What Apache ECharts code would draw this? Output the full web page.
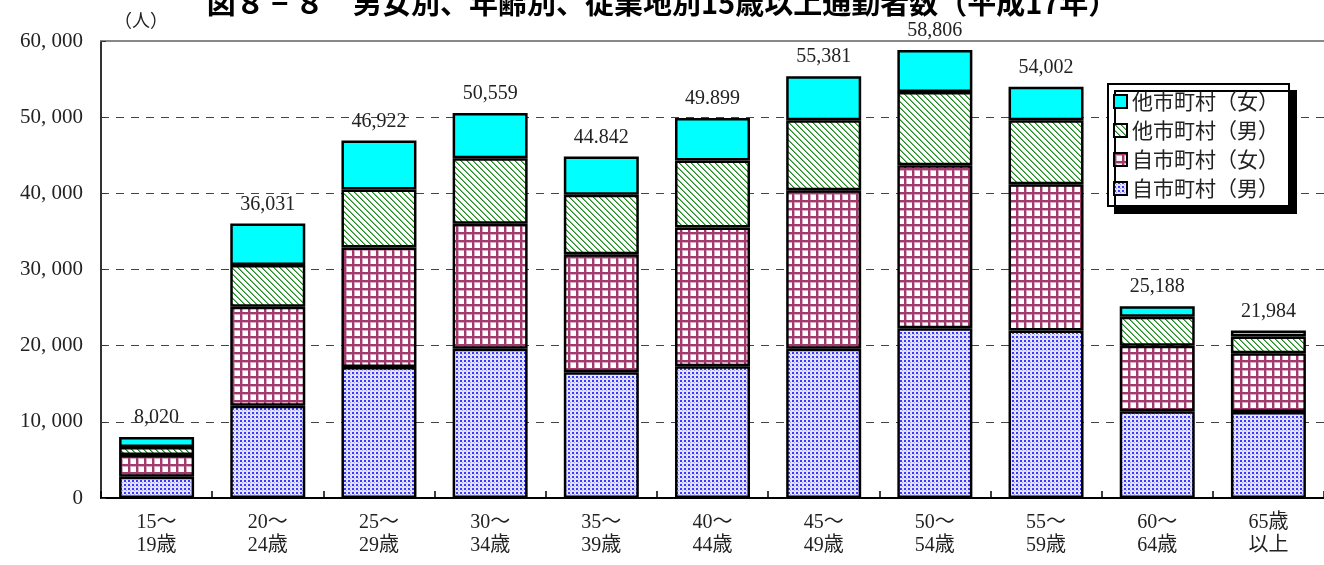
<!DOCTYPE html>
<html><head><meta charset="utf-8">
<script src="https://cdn.jsdelivr.net/npm/echarts@6/dist/echarts.min.js"></script>
<style>html,body{margin:0;padding:0;background:#fff}#c{width:1324px;height:565px}</style>
</head><body><div id="c"></div>
<script>
const categories = ['15～\n19歳','20～\n24歳','25～\n29歳','30～\n34歳','35～\n39歳','40～\n44歳','45～\n49歳','50～\n54歳','55～\n59歳','60～\n64歳','65歳\n以上'];
const jiM = [2800,12100,17200,19600,16500,17300,19600,22300,22000,11400,11300];
const jiF = [2850,13000,15700,16400,15500,18200,20800,21400,19200,8600,7700];
const taM = [1050,5500,7600,8600,7800,8800,9200,9600,8400,3800,2200];
const taF = [1320,5431,6422,5959,5042,5599,5781,5506,4402,1388,784];
const totalLabels = ['8,020','36,031','46,922','50,559','44.842','49.899','55,381','58,806','54,002','25,188','21,984'];
const yTickLabels = ['0','10, 000','20, 000','30, 000','40, 000','50, 000','60, 000'];
const seriesNames = ['自市町村（男）','自市町村（女）','他市町村（男）','他市町村（女）'];
const titleText = '図８ − ８　男女別、年齢別、従業地別15歳以上通勤者数（平成17年）';

function tile(w,h,draw){const c=document.createElement('canvas');c.width=w;c.height=h;const g=c.getContext('2d');draw(g);return {image:c,repeat:'repeat'};}
const dotPat = tile(4,4,g=>{g.fillStyle='#e4e4ff';g.fillRect(0,0,4,4);g.fillStyle='#3a3aff';g.fillRect(0,0,2,2);g.fillStyle='#9a9aff';g.fillRect(2,2,1,1);});
const gridPat = tile(8,8,g=>{g.fillStyle='#ffffff';g.fillRect(0,0,8,8);g.fillStyle='#d7a6bf';g.fillRect(0,0,3,8);g.fillRect(0,0,8,3);g.fillStyle='#a23a6e';g.fillRect(0,0,2,8);g.fillRect(0,0,8,2);});
const hatchPat = tile(6,6,g=>{g.fillStyle='#ffffff';g.fillRect(0,0,6,6);for(let y=0;y<6;y++){for(let x=0;x<6;x++){const d=((x-y)%6+6)%6;if(d===0){g.fillStyle='#1f8a1f';g.fillRect(x,y,1,1);}else if(d===1){g.fillStyle='#79c079';g.fillRect(x,y,1,1);}}}});
const cyan = '#00ffff';

const serif = "'Liberation Serif','Noto Sans CJK JP',serif";
const chart = echarts.init(document.getElementById('c'));
const base = {type:'bar',stack:'a',barWidth:75};
chart.setOption({
  animation:false,
  backgroundColor:'#fff',
  title:{text:titleText,left:'center',top:-17,textStyle:{fontFamily:"'Noto Sans CJK JP'",fontWeight:'bold',fontSize:29,color:'#000'}},
  legend:{orient:'vertical',left:1108,top:84,padding:[7,10,7,5],itemGap:8,itemWidth:13,itemHeight:13,icon:'rect',
    backgroundColor:'#fff',borderColor:'#000',borderWidth:2,shadowColor:'#000',shadowOffsetX:7,shadowOffsetY:7,shadowBlur:0,
    data:[seriesNames[3],seriesNames[2],seriesNames[1],seriesNames[0]],
    itemStyle:{borderColor:'#000',borderWidth:2},
    textStyle:{fontFamily:"'Noto Sans CJK JP'",fontSize:21,color:'#222',padding:[0,0,0,0]}},
  grid:{left:101,top:41,width:1232,height:457},
  xAxis:[{type:'category',data:categories,
    axisLine:{lineStyle:{color:'#000',width:2}},
    axisTick:{show:true,inside:true,length:7,lineStyle:{color:'#000',width:1.5}},
    axisLabel:{fontFamily:serif,fontSize:20,color:'#222',margin:13,lineHeight:23}},
    {type:'category',position:'top',data:categories,axisLine:{lineStyle:{color:'#888',width:2}},axisTick:{show:false},axisLabel:{show:false}}],
  yAxis:{type:'value',min:0,max:60000,interval:10000,
    axisLine:{show:true,lineStyle:{color:'#333',width:2}},
    axisTick:{show:true,inside:true,length:5,lineStyle:{color:'#333'}},
    axisLabel:{fontFamily:serif,fontSize:21,color:'#222',margin:18,formatter:(v)=>yTickLabels[Math.round(v/10000)]},
    splitLine:{lineStyle:{color:'#444',type:[8,7],width:1}}},
  graphic:[{type:'text',left:114,top:11,style:{text:'（人）',fontFamily:"'Noto Sans CJK JP'",fontSize:18,fill:'#222'}}],
  series:[
    Object.assign({},base,{name:seriesNames[0],data:jiM,itemStyle:{color:dotPat,borderColor:'#000',borderWidth:2.5}}),
    Object.assign({},base,{name:seriesNames[1],data:jiF,itemStyle:{color:gridPat,borderColor:'#000',borderWidth:2.5}}),
    Object.assign({},base,{name:seriesNames[2],data:taM,itemStyle:{color:hatchPat,borderColor:'#000',borderWidth:2.5}}),
    Object.assign({},base,{name:seriesNames[3],data:taF,itemStyle:{color:cyan,borderColor:'#000',borderWidth:2.5},
      label:{show:true,position:'top',distance:9,fontFamily:serif,fontSize:20,color:'#222',formatter:(p)=>totalLabels[p.dataIndex]}})
  ]
});
</script></body></html>
